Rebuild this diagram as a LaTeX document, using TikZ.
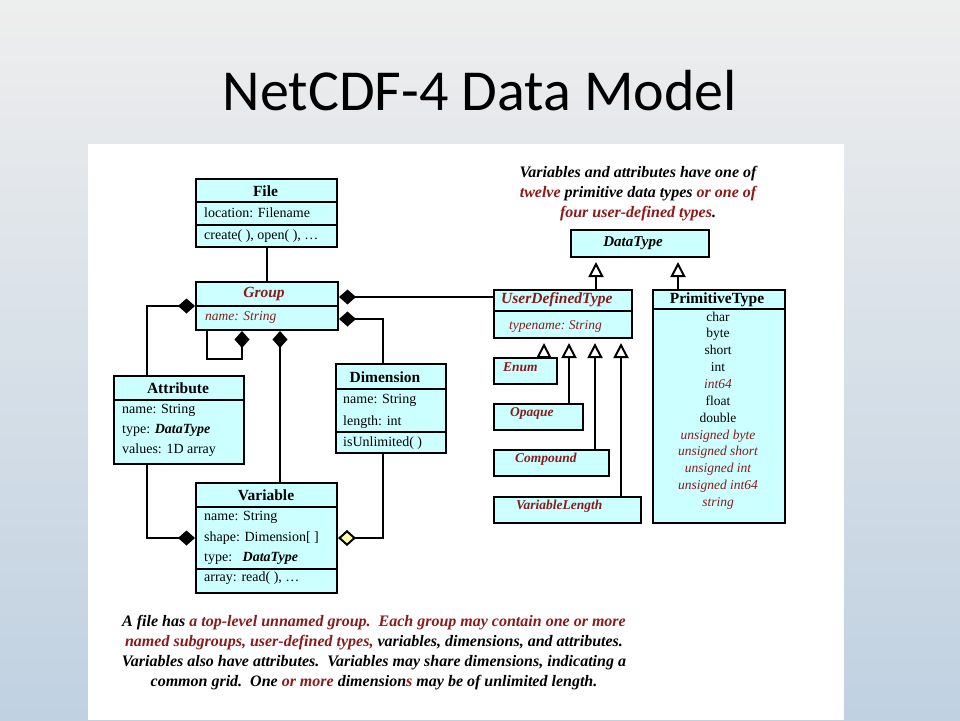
\documentclass[tikz,border=0pt]{standalone}
\usepackage{fontspec}
\setmainfont{Liberation Serif}
\newfontfamily\titlefont{Carlito}
\usetikzlibrary{arrows.meta,calc}
\definecolor{boxfill}{HTML}{CCFFFF}
\definecolor{dred}{HTML}{8B1A1A}
\definecolor{dyel}{HTML}{FFFFA8}
\definecolor{bgtop}{HTML}{EEEEEE}
\definecolor{bgmid}{HTML}{DFE5EC}
\definecolor{bgbot}{HTML}{C0D1E1}
\begin{document}
\begin{tikzpicture}[x=1pt,y=-1pt,
  umlbox/.style={draw=black, line width=2pt, fill=boxfill, inner sep=0pt, anchor=north west},
  divider/.style={line width=2pt},
  conn/.style={line width=2pt},
  ttl/.style={font=\fontsize{15.5}{18}\selectfont\bfseries, anchor=center, inner sep=0pt},
  ttlred/.style={font=\fontsize{15.5}{18}\selectfont\bfseries\itshape, text=dred, anchor=center, inner sep=0pt},
  att/.style={font=\fontsize{14}{16}\selectfont, anchor=west, inner sep=0pt},
  attred/.style={font=\fontsize{13.5}{16}\selectfont\itshape, text=dred, anchor=west, inner sep=0pt},
  sublbl/.style={font=\fontsize{13.5}{16}\selectfont\bfseries\itshape, text=dred, anchor=west, inner sep=0pt},
  comp/.style={conn, {Diamond[length=17pt,width=15pt]}-},
  compend/.style={conn, -{Diamond[length=17pt,width=15pt]}},
  aggend/.style={conn, -{Diamond[length=18pt,width=16pt,fill=dyel]}},
  inh/.style={conn, -{Triangle[open,length=15pt,width=15pt]}, shorten >=4pt},
  note/.style={font=\fontsize{16}{20}\selectfont\bfseries\itshape, align=center, inner sep=0pt}
]
\useasboundingbox (0,0) rectangle (960,720);
% background
\shade[top color=bgtop, middle color=bgmid, bottom color=bgbot] (0,0) rectangle (960,720);
\fill[white] (88,144) rectangle (844,720);
% title
\node[font=\titlefont\fontsize{58}{64}\selectfont, anchor=base, inner sep=0pt] (title) at (480,110) {NetCDF-4 Data Model};

% boxes
\node[umlbox, minimum width=141pt, minimum height=68pt] (file) at (195,178) {};
\node[umlbox, minimum width=142pt, minimum height=48pt] (group) at (195,281) {};
\node[umlbox, minimum width=130pt, minimum height=88pt] (attr) at (113,375) {};
\node[umlbox, minimum width=110pt, minimum height=89pt] (dim) at (335,363) {};
\node[umlbox, minimum width=141pt, minimum height=110pt] (var) at (195,482) {};
\node[umlbox, minimum width=138pt, minimum height=27pt] (dt) at (570,229) {};
\node[umlbox, minimum width=138pt, minimum height=48pt] (udt) at (493,289) {};
\node[umlbox, minimum width=132pt, minimum height=233pt] (prim) at (652,289) {};
\node[umlbox, minimum width=63pt, minimum height=26pt] (enum) at (493,357) {};
\node[umlbox, minimum width=89pt, minimum height=26pt] (opaque) at (493,403) {};
\node[umlbox, minimum width=115pt, minimum height=26pt] (compound) at (493,449) {};
\node[umlbox, minimum width=147pt, minimum height=26pt] (vlen) at (493,496) {};

% dividers
\draw[divider] (file.west |- 0,202) -- (file.east |- 0,202);
\draw[divider] (file.west |- 0,225) -- (file.east |- 0,225);
\draw[divider] (group.west |- 0,306) -- (group.east |- 0,306);
\draw[divider] (attr.west |- 0,400) -- (attr.east |- 0,400);
\draw[divider] (dim.west |- 0,389) -- (dim.east |- 0,389);
\draw[divider] (dim.west |- 0,432) -- (dim.east |- 0,432);
\draw[divider] (var.west |- 0,507) -- (var.east |- 0,507);
\draw[divider] (var.west |- 0,569) -- (var.east |- 0,569);
\draw[divider] (udt.west |- 0,311) -- (udt.east |- 0,311);
\draw[divider] (prim.west |- 0,309) -- (prim.east |- 0,309);

% texts: File
\node[ttl] (fileT) at (265.5,191) {File};
\node[att] (fileA) at (204,213) {location: Filename};
\node[att] (fileM) at (204,236) {create( ), open( ), \dots};
% Group
\node[ttlred] (groupT) at (264,294) {Group};
\node[attred] (groupA) at (205,317) {name: String};
% Attribute
\node[ttl] (attrT) at (178,388) {Attribute};
\node[att] (attrA1) at (122,410) {name: String};
\node[att] (attrA2) at (122,430) {type: \textbf{\textit{DataType}}};
\node[att] (attrA3) at (122,450) {values: 1D array};
% Dimension
\node[ttl] (dimT) at (385,377) {Dimension};
\node[att] (dimA1) at (343,400) {name: String};
\node[att] (dimA2) at (343,422) {length: int};
\node[att] (dimM) at (343,443) {isUnlimited( )};
% Variable
\node[ttl] (varT) at (266,495) {Variable};
\node[att] (varA1) at (204,517) {name: String};
\node[att] (varA2) at (204,538) {shape: Dimension[ ]};
\node[att] (varA3) at (204,558) {type:\ \ \ \textbf{\textit{DataType}}};
\node[att] (varM) at (204,578) {array: read( ), \dots};
% DataType
\node[ttl, font=\fontsize{15}{18}\selectfont\bfseries\itshape] (dtT) at (633,243) {DataType};
% UserDefinedType
\node[ttlred, anchor=west] (udtT) at (501,300) {UserDefinedType};
\node[attred] (udtA) at (509,326) {typename:\ String};
% PrimitiveType
\node[ttl] (primT) at (717,300) {PrimitiveType};
\node[font=\fontsize{13.5}{16.85}\selectfont, align=center, anchor=north, inner sep=0pt] (primL) at (718,311.5)
 {char\\ byte\\ short\\ int\\ {\color{dred}\itshape int64}\\ float\\ double\\
  {\color{dred}\itshape unsigned byte}\\ {\color{dred}\itshape unsigned short}\\ {\color{dred}\itshape unsigned int}\\
  {\color{dred}\itshape unsigned int64}\\ {\color{dred}\itshape string}};
% subtypes
\node[sublbl] (enumT) at (503,367) {Enum};
\node[sublbl] (opaqueT) at (510,413) {Opaque};
\node[sublbl] (compoundT) at (515,459) {Compound};
\node[sublbl] (vlenT) at (516,506) {VariableLength};

% notes
\node[note, anchor=north] (noteTop) at (638,166)
 {Variables and attributes have one of\\
  {\color{dred}twelve} primitive data types {\color{dred}or one of}\\
  {\color{dred}four user-defined types}.};
\node[note, anchor=north] (noteBot) at (374,615)
 {A file has {\color{dred}a top-level unnamed group.\ \ Each group may contain one or more}\\
  {\color{dred}named subgroups, user-defined types,} variables, dimensions, and attributes.\\
  Variables also have attributes.\ \ Variables may share dimensions, indicating a\\
  common grid.\ \ One {\color{dred}or more} dimension{\color{dred}s} may be of unlimited length.};

% connectors
\draw[conn] (file.south) -- (file.south |- group.north);
\coordinate (g1) at ([yshift=-16pt]group.north east);
\draw[comp] (g1) -- (g1 -| udt.west);
\coordinate (g2) at ([yshift=-38pt]group.north east);
\coordinate (d1) at ([xshift=48pt]dim.north west);
\draw[comp] (g2) -| (d1);
\coordinate (a1) at ([xshift=34pt]attr.north west);
\draw[comp] (group.west) -| (a1);
\coordinate (s1) at ([xshift=47pt]group.south west);
\coordinate (s2) at ([xshift=12pt]group.south west);
\draw[comp] (s1) -- ++(0,28) -| (s2);
\coordinate (gv) at ([xshift=85pt]group.south west);
\draw[comp] (gv) -- (gv |- var.north);
\coordinate (a2) at ([xshift=34pt]attr.south west);
\draw[compend] (a2) |- (var.west);
\coordinate (d2) at ([xshift=48pt]dim.south west);
\draw[aggend] (d2) |- (var.east);
% inheritance
\coordinate (u1) at ([xshift=103pt]udt.north west);
\draw[inh] (u1) -- (u1 |- dt.south);
\coordinate (p1) at ([xshift=26pt]prim.north west);
\draw[inh] (p1) -- (p1 |- dt.south);
\coordinate (e1) at ([xshift=51pt]enum.north west);
\draw[inh] (e1) -- (e1 |- udt.south);
\coordinate (o1) at ([xshift=76pt]opaque.north west);
\draw[inh] (o1) -- (o1 |- udt.south);
\coordinate (c1) at ([xshift=102pt]compound.north west);
\draw[inh] (c1) -- (c1 |- udt.south);
\coordinate (v1) at ([xshift=128pt]vlen.north west);
\draw[inh] (v1) -- (v1 |- udt.south);
\end{tikzpicture}
\end{document}
